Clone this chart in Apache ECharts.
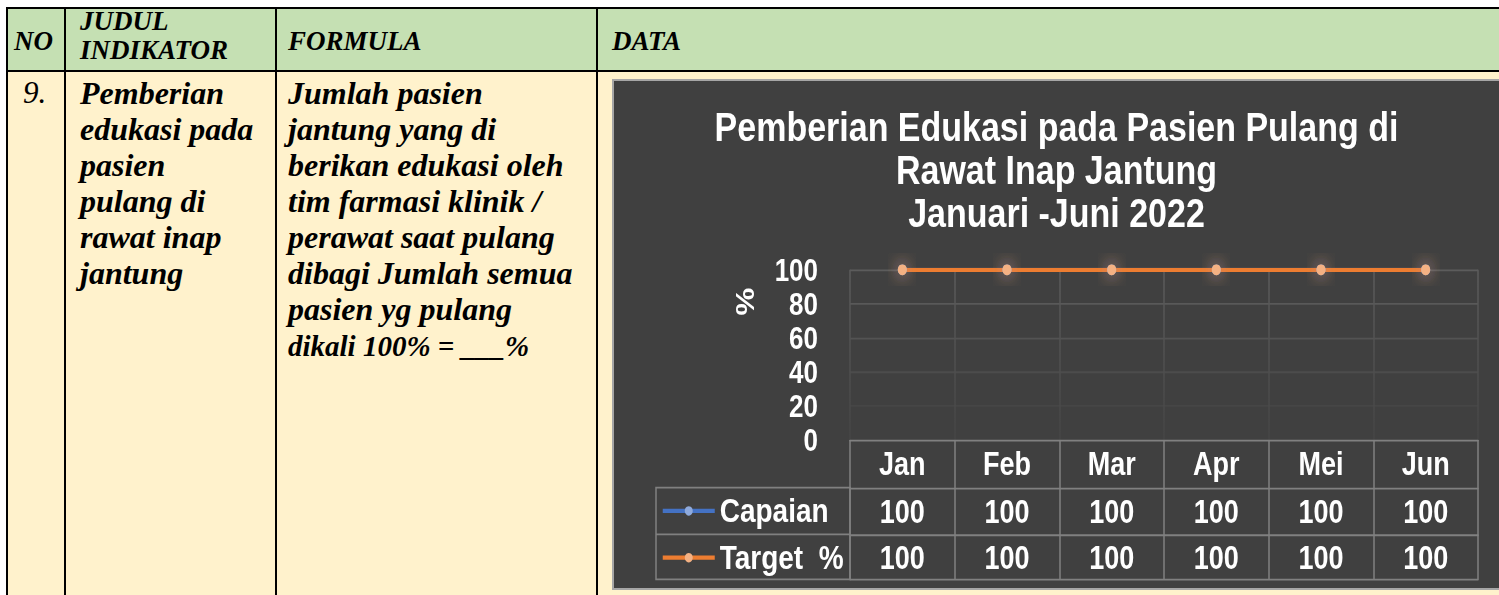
<!DOCTYPE html>
<html><head><meta charset="utf-8">
<script src="https://cdn.jsdelivr.net/npm/echarts@6/dist/echarts.min.js"></script>
<style>
html,body{margin:0;padding:0;background:#fff;width:1499px;height:595px;overflow:hidden;position:relative;font-family:"Liberation Serif","Times New Roman",serif;}
.bg{position:absolute;}
.ln{position:absolute;background:#000;}
.t{position:absolute;white-space:nowrap;font-weight:bold;font-style:italic;color:#000;}
#wrap{position:absolute;left:612px;top:79px;width:887px;height:511px;background:#404040;box-sizing:border-box;border-left:2px solid #a6a6a6;border-top:2px solid #a6a6a6;border-bottom:2px solid #a6a6a6;overflow:hidden;}
#chart{position:absolute;left:0;top:0;width:885px;height:423px;transform:scaleY(1.1986);transform-origin:0 0;}
</style></head><body>
<div class="bg" style="left:8px;top:8px;width:1491px;height:63px;background:#C5E0B3"></div>
<div class="bg" style="left:8px;top:71px;width:1491px;height:524px;background:#FFF2CC"></div>
<div class="ln" style="left:6px;top:7px;width:1493px;height:2px"></div>
<div class="ln" style="left:6px;top:70px;width:1493px;height:2px"></div>
<div class="ln" style="left:6px;top:7px;width:2px;height:588px"></div>
<div class="ln" style="left:64px;top:7px;width:2px;height:588px"></div>
<div class="ln" style="left:275px;top:7px;width:2px;height:588px"></div>
<div class="ln" style="left:596px;top:7px;width:2px;height:588px"></div>

<div class="t" style="left:14px;top:10px;font-size:27px;line-height:63px">NO</div>
<div class="t" style="left:80px;top:7px;font-size:27px;line-height:29px">JUDUL<br>INDIKATOR</div>
<div class="t" style="left:288px;top:10px;font-size:27px;line-height:63px">FORMULA</div>
<div class="t" style="left:612px;top:10px;font-size:27px;line-height:63px">DATA</div>

<div class="t" style="left:23px;top:75px;font-size:31px;line-height:36px;font-weight:normal">9.</div>
<div class="t" style="left:80px;top:75px;font-size:32px;line-height:36px">Pemberian<br>edukasi pada<br>pasien<br>pulang di<br>rawat inap<br>jantung</div>
<div class="t" style="left:288px;top:75px;font-size:32px;line-height:36px">Jumlah pasien<br>jantung yang di<br>berikan edukasi oleh<br>tim farmasi klinik /<br>perawat saat pulang<br>dibagi Jumlah semua<br>pasien yg pulang<br><span style="font-size:29px">dikali 100% = ___%</span></div>

<div id="wrap"><div id="chart"></div></div>

<script>
const months = ['Jan', 'Feb', 'Mar', 'Apr', 'Mei', 'Jun'];
const capaian = [100, 100, 100, 100, 100, 100];
const target = [100, 100, 100, 100, 100, 100];
const seriesNames = ['Capaian', 'Target  %'];
const titleText = 'Pemberian Edukasi pada Pasien Pulang di\nRawat Inap Jantung\nJanuari -Juni 2022';
const yName = '%';

const FF = '"Liberation Sans", Arial, sans-serif';
const tableLine = '#808080';
const chart = echarts.init(document.getElementById('chart'), null, {renderer: 'svg'});

function rowAxis(values, offset, showLabel) {
  return {
    type: 'category', data: months, gridIndex: 0, position: 'bottom', offset: offset,
    axisLine: {show: true, lineStyle: {color: tableLine, width: 1.5}},
    axisTick: {show: false},
    splitLine: {show: false},
    axisLabel: {
      show: showLabel, interval: 0, color: '#fff', fontSize: 27, fontWeight: 'bold', fontFamily: FF,
      margin: 19.5, verticalAlign: 'middle',
      formatter: function (v, i) { return values ? String(values[i]) : v; }
    }
  };
}

const option = {
  animation: false,
  backgroundColor: 'transparent',
  title: {
    text: titleText, left: 'center', top: 20, padding: [0, 0, 0, 8],
    textStyle: {color: '#fff', fontSize: 34, fontWeight: 'bold', fontFamily: FF, lineHeight: 36}
  },
  legend: {
    orient: 'vertical', left: 47, top: 339.2, padding: 0, itemGap: 0,
    itemWidth: 52, itemHeight: 10, selectedMode: false,
    lineStyle: {width: 3.5},
    data: seriesNames,
    textStyle: {color: '#fff', fontSize: 28, fontWeight: 'bold', fontFamily: FF, lineHeight: 39}
  },
  grid: {left: 236, right: 21, top: 157.5, bottom: 123.5},
  xAxis: [
    {
      type: 'category', data: months, position: 'bottom', boundaryGap: true,
      axisLine: {show: true, lineStyle: {color: tableLine, width: 1.5}},
      axisTick: {show: true, interval: 0, length: 116.5, lineStyle: {color: tableLine, width: 1.5}},
      axisLabel: {interval: 0, color: '#fff', fontSize: 27, fontWeight: 'bold', fontFamily: FF, margin: 20, verticalAlign: 'middle'},
      splitLine: {show: true, interval: 0, lineStyle: {width: 1.5, color: {
        type: 'linear', x: 0, y: 157, x2: 0, y2: 299, global: true,
        colorStops: [{offset: 0, color: '#5c5c5c'}, {offset: 1, color: '#454545'}]
      }}}
    },
    rowAxis(capaian, 40, true),
    rowAxis(target, 79, true),
    rowAxis(null, 116.5, false)
  ],
  yAxis: {
    type: 'value', min: 0, max: 100, interval: 20,
    axisLine: {show: false}, axisTick: {show: false},
    axisLabel: {color: '#fff', fontSize: 26, fontWeight: 'bold', fontFamily: FF, margin: 32},
    splitLine: {lineStyle: {width: 1.5, color: ['#404040', '#464646', '#4c4c4c', '#535353', '#595959', '#5c5c5c']}}
  },
  graphic: [
    {type: 'rect', shape: {x: 42, y: 339.2, width: 194, height: 76.6}, style: {fill: 'none', stroke: tableLine, lineWidth: 1.5}, silent: true},
    {type: 'line', shape: {x1: 42, y1: 378.3, x2: 236, y2: 378.3}, style: {stroke: tableLine, lineWidth: 1.5}, silent: true},
    {type: 'text', x: 131, y: 184, rotation: Math.PI / 2,
     style: {text: yName, fill: '#fff', fontSize: 26, fontWeight: 'bold', fontFamily: FF, align: 'center', verticalAlign: 'middle'}, silent: true}
  ],
  series: [
    {
      name: seriesNames[0], type: 'line', data: capaian, xAxisIndex: 0,
      symbol: 'circle', symbolSize: 9,
      lineStyle: {color: '#4472C4', width: 3.5},
      itemStyle: {color: '#8FAADC', shadowBlur: 14, shadowColor: 'rgba(143,170,220,0.7)'}
    },
    {
      name: seriesNames[1], type: 'line', data: target, xAxisIndex: 0, z: 3,
      symbol: 'circle', symbolSize: 9,
      lineStyle: {color: '#ED7D31', width: 3.5},
      itemStyle: {color: '#F4B183', shadowBlur: 16, shadowColor: 'rgba(237,125,49,0.85)'}
    }
  ]
};
chart.setOption(option);
</script>
</body></html>
